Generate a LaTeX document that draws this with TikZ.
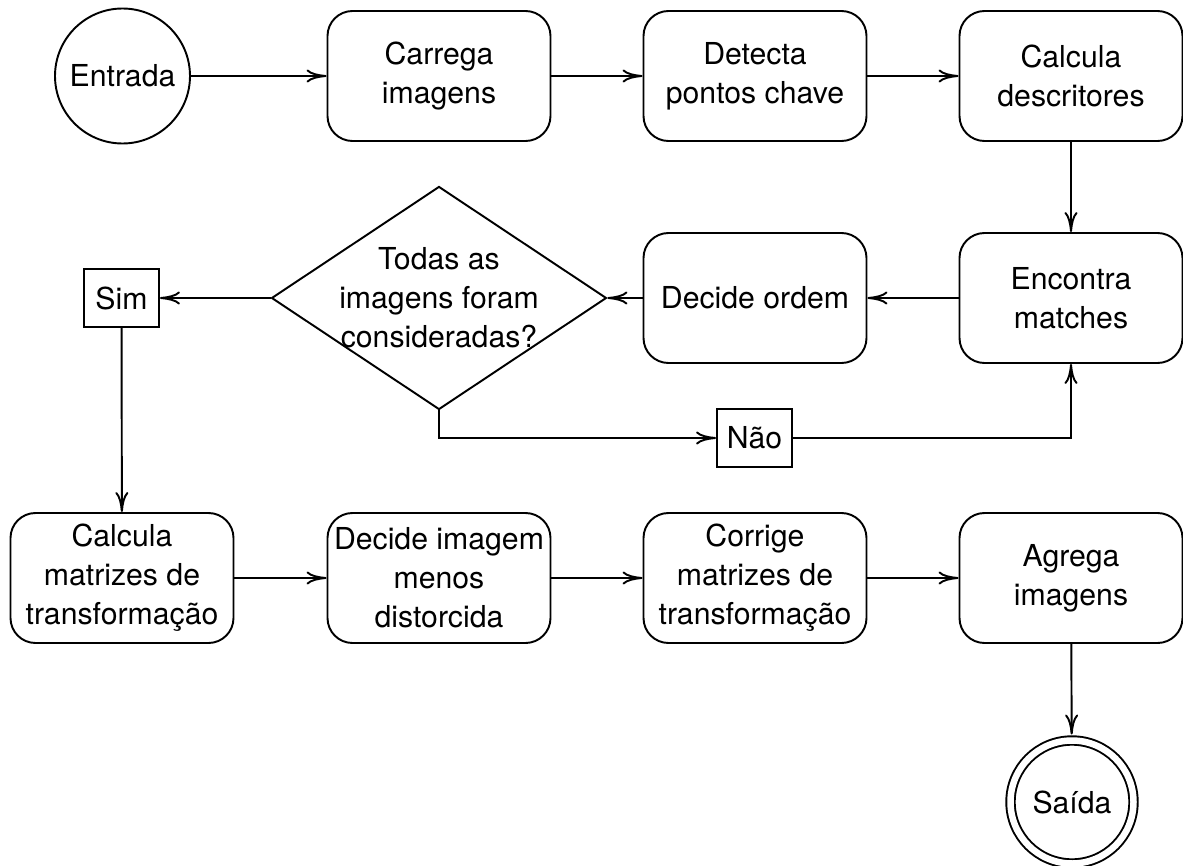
\documentclass[tikz,border=0pt]{standalone}
\usepackage{fontspec}
\setmainfont{TeX Gyre Heros}
\usetikzlibrary{shapes.geometric,arrows.meta}

\begin{document}
\begin{tikzpicture}[
  font=\fontsize{8.6}{11.1}\selectfont,
  line width=0.55pt,
  >={Computer Modern Rightarrow[length=0.2cm,width=0.13cm]},
  etapa/.style={draw,rounded corners=0.25cm,minimum width=2.23cm,minimum height=1.3cm,align=center,inner sep=1pt},
  inicio/.style={draw,circle,minimum size=1.35cm,inner sep=0pt},
  fim/.style={draw,circle,double,double distance=0.065cm,minimum size=1.23cm,inner sep=0pt,outer sep=0.06cm},
  teste/.style={draw,diamond,aspect=1.5,minimum width=3.35cm,minimum height=2.23cm,inner sep=-0.2cm,align=center},
  rotulo/.style={draw,minimum width=0.75cm,minimum height=0.58cm,inner sep=1pt}
]
\useasboundingbox (0,0) rectangle (11.83,-8.66);

% primeira linha
\node[inicio] (entrada) at (1.225,-0.76) {Entrada};
\node[etapa] (carrega) at (4.39,-0.76) {Carrega\\imagens};
\node[etapa] (detecta) at (7.55,-0.76) {Detecta\\pontos chave};
\node[etapa] (descritores) at (10.71,-0.76) {Calcula\\descritores};

% segunda linha
\node[etapa] (encontra) at (10.71,-2.98) {Encontra\\matches};
\node[etapa] (ordem) at (7.55,-2.98) {Decide ordem};
\node[teste] (todas) at (4.39,-2.98) {Todas as\\imagens foram\\consideradas?};
\node[rotulo] (sim) at (1.215,-2.98) {Sim};
\node[rotulo] (nao) at (7.545,-4.38) {Não};

% terceira linha
\node[etapa] (matrizes) at (1.22,-5.78) {Calcula\\matrizes de\\transformação};
\node[etapa] (menos) at (4.39,-5.78) {Decide imagem\\menos\\distorcida};
\node[etapa] (corrige) at (7.55,-5.78) {Corrige\\matrizes de\\transformação};
\node[etapa] (agrega) at (10.71,-5.78) {Agrega\\imagens};
\node[fim] (saida) at (10.72,-8.02) {Saída};

\draw[->] (entrada) -- (carrega);
\draw[->] (carrega) -- (detecta);
\draw[->] (detecta) -- (descritores);
\draw[->] (descritores) -- (encontra);
\draw[->] (encontra) -- (ordem);
\draw[->] (ordem) -- (todas);
\draw[->] (todas) -- (sim);
\draw[->] (todas.south) |- (nao);
\draw[->] (nao) -| (encontra);
\draw[->] (sim) -- (matrizes);
\draw[->] (matrizes) -- (menos);
\draw[->] (menos) -- (corrige);
\draw[->] (corrige) -- (agrega);
\draw[->] (agrega) -- (saida);
\end{tikzpicture}
\end{document}
